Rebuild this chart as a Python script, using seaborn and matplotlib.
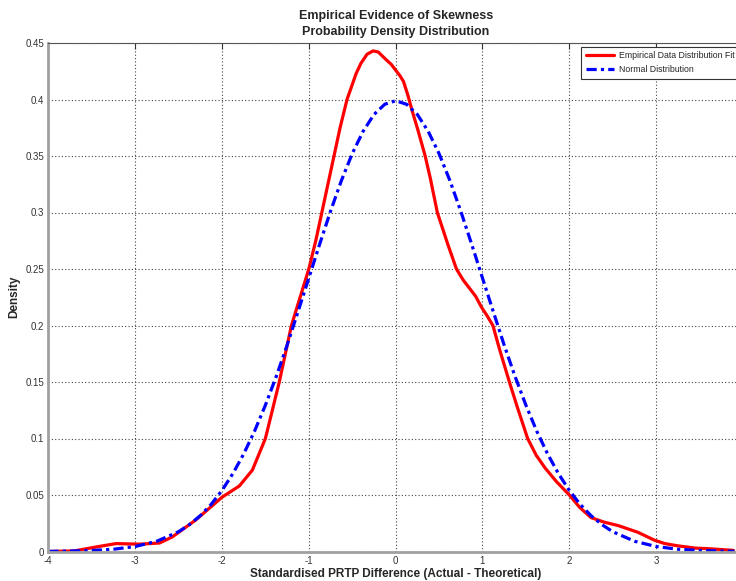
import matplotlib
matplotlib.use("Agg")
import matplotlib.pyplot as plt
import seaborn as sns
import pandas as pd

# Empirical (red) curve
emp_x = [-4.0, -3.7, -3.45, -3.22, -2.95, -2.72, -2.57, -2.3, -2.0, -1.8, -1.65,
         -1.5, -1.42, -1.34, -1.27, -1.2, -1.1, -1.0, -0.92, -0.85, -0.78, -0.71, -0.64,
         -0.56, -0.455, -0.4, -0.33, -0.26, -0.2, -0.12, -0.05, 0.0, 0.05, 0.09, 0.14,
         0.19, 0.26, 0.34, 0.4, 0.48, 0.6, 0.7, 0.78, 0.84, 0.92, 0.99, 1.05,
         1.12, 1.2, 1.31, 1.4, 1.52, 1.62, 1.72, 1.85, 2.0, 2.12, 2.25, 2.4, 2.56, 2.79,
         2.98, 3.1, 3.25, 3.45, 3.62, 3.89]
emp_y = [0.0, 0.0005, 0.004, 0.007, 0.0065, 0.0075, 0.013, 0.028, 0.048, 0.058, 0.072,
         0.100, 0.125, 0.150, 0.175, 0.200, 0.225, 0.250, 0.275, 0.300, 0.325, 0.350, 0.375,
         0.400, 0.423, 0.432, 0.440, 0.443, 0.442, 0.436, 0.431, 0.426, 0.421, 0.416, 0.404,
         0.390, 0.372, 0.350, 0.330, 0.300, 0.272, 0.250, 0.240, 0.234, 0.226, 0.216, 0.209,
         0.200, 0.178, 0.150, 0.128, 0.100, 0.085, 0.074, 0.062, 0.050, 0.039, 0.030, 0.026,
         0.023, 0.017, 0.010, 0.007, 0.005, 0.003, 0.0024, 0.001]

# Normal (blue) curve
norm_x = [-4.0, -3.75, -3.5, -3.25, -3.0, -2.75, -2.5, -2.375, -2.25, -2.125, -2.0,
          -1.875, -1.75, -1.625, -1.5, -1.375, -1.25, -1.125, -1.0, -0.875, -0.75,
          -0.625, -0.5, -0.375, -0.25, -0.125, 0.0, 0.125, 0.25, 0.375, 0.5, 0.625,
          0.75, 0.875, 1.0, 1.125, 1.25, 1.375, 1.5, 1.625, 1.75, 1.875, 2.0, 2.125,
          2.25, 2.375, 2.5, 2.75, 3.0, 3.25, 3.5, 3.75, 3.9]
norm_y = [0.0001, 0.0004, 0.0009, 0.002, 0.0044, 0.0091, 0.0175, 0.0238, 0.0317, 0.0417,
          0.054, 0.0689, 0.0863, 0.1065, 0.1295, 0.1549, 0.1826, 0.2121, 0.242, 0.272,
          0.3011, 0.3282, 0.3521, 0.3718, 0.3867, 0.3958, 0.3989, 0.3958, 0.3867, 0.3718,
          0.3521, 0.3282, 0.3011, 0.272, 0.242, 0.2121, 0.1826, 0.1549, 0.1295, 0.1065,
          0.0863, 0.0689, 0.054, 0.0417, 0.0317, 0.0238, 0.0175, 0.0091, 0.0044, 0.002,
          0.0009, 0.0004, 0.0002]

x_ticks = [-4, -3, -2, -1, 0, 1, 2, 3, 4]
x_tick_labels = ["-4", "-3", "-2", "-1", "0", "1", "2", "3", ""]
y_ticks = [0, 0.05, 0.1, 0.15, 0.2, 0.25, 0.3, 0.35, 0.4, 0.45]
y_tick_labels = ["0", "0.05", "0.1", "0.15", "0.2", "0.25", "0.3", "0.35", "0.4", "0.45"]

sns.set_style("white")
plt.rcParams['font.family'] = ['Liberation Sans', 'DejaVu Sans']

fig = plt.figure(figsize=(7.36, 5.81), dpi=100)
ax = fig.add_axes([48.3 / 736, 1 - 551.5 / 581, (743 - 48.3) / 736, (551.5 - 43) / 581])

emp_df = pd.DataFrame({"x": emp_x, "y": emp_y})
norm_df = pd.DataFrame({"x": norm_x, "y": norm_y})

sns.lineplot(data=emp_df, x="x", y="y", ax=ax, color="#ff0000", linewidth=2.3,
             label="Empirical Data Distribution Fit", sort=False)
sns.lineplot(data=norm_df, x="x", y="y", ax=ax, color="#0000ff", linewidth=2.3,
             linestyle=(0, (3.2, 1.3, 1.0, 1.3)), label="Normal Distribution", sort=False)

ax.set_xlim(-4, 4)
ax.set_ylim(0, 0.45)
ax.set_xticks(x_ticks)
ax.set_xticklabels(x_tick_labels)
ax.set_yticks(y_ticks)
ax.set_yticklabels(y_tick_labels)

ax.grid(True, linestyle=(0, (1, 2)), color="#444444", linewidth=0.8)
ax.tick_params(direction="in", length=4, width=0.8, labelsize=7, colors="#333333",
               top=True, right=True, pad=3)

for side in ["left", "bottom"]:
    ax.spines[side].set_color("#a0a0a0")
    ax.spines[side].set_linewidth(2.0)
for side in ["top", "right"]:
    ax.spines[side].set_color("#555555")
    ax.spines[side].set_linewidth(0.8)

ax.set_xlabel("Standardised PRTP Difference (Actual - Theoretical)", fontsize=8.5,
              fontweight="bold", labelpad=2)
ax.set_ylabel("Density", fontsize=8.5, fontweight="bold", labelpad=4)
ax.set_title("Empirical Evidence of Skewness\nProbability Density Distribution",
             fontsize=9, fontweight="bold", pad=6, linespacing=1.45)

leg = ax.legend(loc="upper right", fontsize=6.3, frameon=True, fancybox=False,
                edgecolor="#333333", framealpha=1, handlelength=3.2, borderaxespad=0.4,
                labelspacing=0.55, borderpad=0.55, handletextpad=0.6)
leg.get_frame().set_linewidth(0.8)

fig.savefig("out.png", dpi=100)
